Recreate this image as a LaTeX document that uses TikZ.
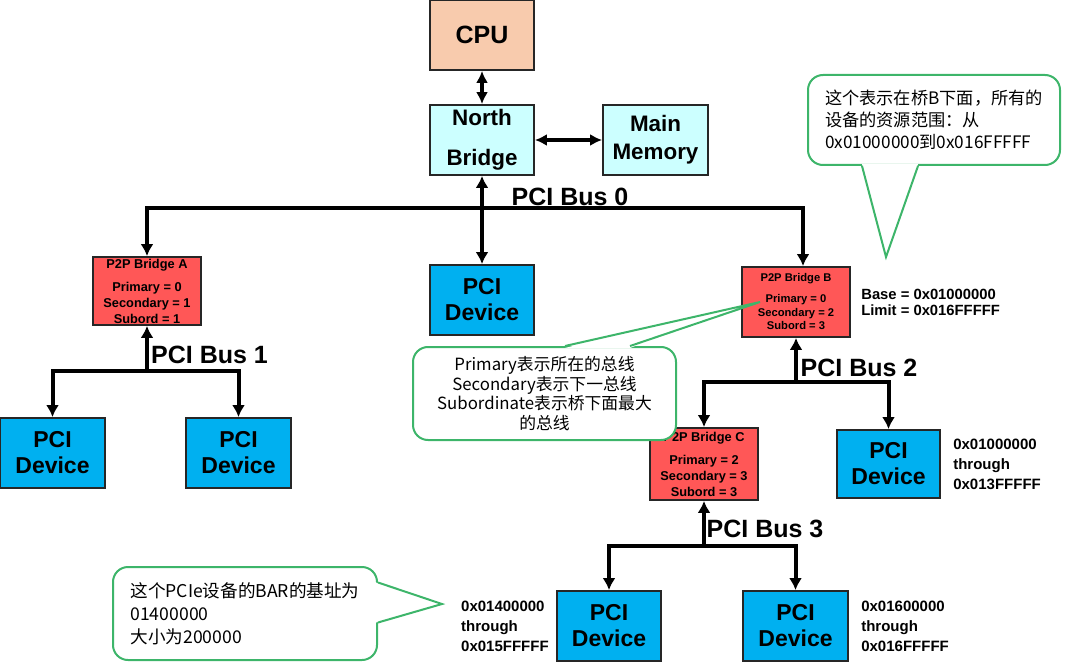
\documentclass[tikz,border=0pt]{standalone}
\usepackage{fontspec}
\setmainfont{Liberation Sans}
\newfontfamily\cjk{Noto Sans CJK SC}
\usepackage{tikz}
\usetikzlibrary{arrows.meta,positioning,calc}
\usepackage{xcolor}
\definecolor{cpuorange}{HTML}{F8CBAD}
\definecolor{nbcyan}{HTML}{CCFFFF}
\definecolor{devblue}{HTML}{00B0F0}
\definecolor{bridgered}{HTML}{FF5757}
\definecolor{notegreen}{HTML}{3DB56A}

\begin{document}
\begin{tikzpicture}[
      x=0.5pt, y=-0.5pt,
      box/.style={draw=black!85, line width=0.9pt, inner sep=0pt, minimum width=52pt, minimum height=35pt, align=center, font=\bfseries\fontsize{11.2}{13}\selectfont},
      cpubox/.style={box, fill=cpuorange, font=\bfseries\fontsize{12.5}{14}\selectfont},
      hostbox/.style={box, fill=nbcyan},
      device/.style={box, fill=devblue, font=\bfseries\fontsize{11.5}{13}\selectfont},
      bridge/.style={box, fill=bridgered, minimum width=54pt, minimum height=35pt, font=\bfseries\fontsize{6.4}{8}\selectfont},
      busname/.style={font=\bfseries\fontsize{12.5}{14}\selectfont, inner sep=0pt},
      addr/.style={font=\bfseries\fontsize{7.5}{10}\selectfont, align=left, inner sep=0pt},
      note/.style={draw=notegreen, line width=1pt, fill=white, rounded corners=7.5pt, inner sep=0pt, font=\cjk\fontsize{8.6}{11}\selectfont},
      pointer/.style={draw=notegreen, line width=1pt},
      bus/.style={line width=2pt, >={Latex[length=6pt,width=6.5pt]}},
      link/.style={line width=1.8pt, {Latex[length=6pt,width=6pt]}-{Latex[length=6pt,width=6pt]}}
    ]
    \useasboundingbox (0,0) rectangle (1080,668);

    % Host side: CPU, north bridge and memory
    \node[cpubox] (cpu) at (482,35) {CPU};
    \node[hostbox] (nb) at (482,140) {North\\[7pt]Bridge};
    \node[hostbox, minimum width=52.5pt] (mm) at (655.5,140) {Main\\[1pt]Memory};
    \draw[link] (cpu) -- (nb);
    \draw[link] (nb) -- (mm);

    % Devices and bridges
    \node[device] (dev0) at (482,300) {PCI\\Device};
    \node[device, minimum width=52.5pt] (dev1a) at (52.5,453) {PCI\\Device};
    \node[device, minimum width=52.5pt] (dev1b) at (238.5,453) {PCI\\Device};
    \node[device, minimum width=51.5pt, minimum height=34pt] (dev2) at (888.5,464) {PCI\\Device};
    \node[device] (dev3a) at (609,626) {PCI\\Device};
    \node[device, minimum width=52.5pt] (dev3b) at (795.5,626) {PCI\\Device};

    \node[bridge, minimum height=34pt] (brA) at (147,291)
      {P2P Bridge A\\[3.5pt]Primary = 0\\Secondary = 1\\Subord = 1};
    \node[bridge, font=\bfseries\fontsize{5.6}{6.75}\selectfont] (brB) at (796,302)
      {P2P Bridge B\\[3.75pt]Primary = 0\\Secondary = 2\\Subord = 3};
    \node[bridge, minimum height=36pt] (brC) at (704,464)
      {P2P Bridge C\\[3.5pt]Primary = 2\\Secondary = 3\\Subord = 3};

    % PCI buses
    \coordinate (bus0) at (483,208);
    \coordinate (bus0R) at (803,208);
    \coordinate (bus1) at (147,371);
    \coordinate (bus2) at (796,382);
    \coordinate (bus3) at (704,546);

    \draw[bus,<->] (brA.north) -- (brA.north |- bus0) -- (bus0R) -- (bus0R |- brB.north);
    \draw[bus,<->] (nb.south) -- (dev0.north);
    \draw[bus,<->] (dev1a.north) -- (dev1a.north |- bus1) -- (dev1b.north |- bus1) -- (dev1b.north);
    \draw[bus,->] (bus1) -- (brA.south);
    \draw[bus,<->] (brC.north) -- (brC.north |- bus2) -- (dev2.north |- bus2) -- (dev2.north);
    \draw[bus,->] (bus2) -- (brB.south);
    \draw[bus,<->] (dev3a.north) -- (dev3a.north |- bus3) -- (dev3b.north |- bus3) -- (dev3b.north);
    \draw[bus,->] (bus3) -- (brC.south);

    \node[busname] (lbl0) at (570,197) {PCI Bus 0};
    \node[busname] (lbl1) at (209.5,355) {PCI Bus 1};
    \node[busname] (lbl2) at (859,368) {PCI Bus 2};
    \node[busname] (lbl3) at (765,529) {PCI Bus 3};

    % Address windows
    \node[addr, font=\bfseries\fontsize{7.4}{8}\selectfont, right=5pt of brB] (baseB)
      {Base = 0x01000000\\Limit = 0x016FFFFF};
    \node[addr, right=6pt of dev2] (addr2) {0x01000000\\through\\0x013FFFFF};
    \node[addr, left=3.5pt of dev3a] (addr3a) {0x01400000\\through\\0x015FFFFF};
    \node[addr, right=6pt of dev3b] (addr3b) {0x01600000\\through\\0x016FFFFF};

    % Callouts
    \node[note, minimum width=126pt, minimum height=45pt, align=left] (noteB) at (934,120)
      {这个表示在桥B下面，所有的\\设备的资源范围：从\\0x01000000到0x016FFFFF};
    \coordinate (tipB) at (886,257);
    \coordinate (b1) at ($(noteB.south)+(-72,0)$);
    \coordinate (b2) at ($(noteB.south)+(-16,0)$);
    \fill[white] ($(b1)+(0,-2)$) -- ($(b1)!0.3!(tipB)$) -- ($(b2)!0.3!(tipB)$) -- ($(b2)+(0,-2)$) -- cycle;
    \draw[pointer] (b1) -- (tipB) -- (b2);

    \node[note, minimum width=131.5pt, minimum height=46.5pt, align=center,
      font=\cjk\fontsize{8.4}{9.75}\selectfont] (noteP) at (544.5,393.5)
      {Primary表示所在的总线\\Secondary表示下一总线\\Subordinate表示桥下面最大\\的总线};
    \coordinate (tipP) at (760,302);
    \coordinate (p1) at ($(noteP.north)+(20.5,0)$);
    \coordinate (p2) at ($(noteP.north)+(85.5,0)$);
    \fill[white] ($(p1)+(0,2)$) -- ($(p1)!0.3!(tipP)$) -- ($(p2)!0.3!(tipP)$) -- ($(p2)+(0,2)$) -- cycle;
    \draw[pointer] (p1) -- (tipP) -- (p2);

    \node[note, minimum width=132pt, minimum height=46.5pt, align=left,
      font=\cjk\fontsize{8.8}{11.5}\selectfont] (noteBar) at (245,613.5)
      {这个PCIe设备的BAR的基址为\\01400000\\大小为200000};
    \coordinate (tipBar) at (442,604);
    \coordinate (q1) at ($(noteBar.east)+(0,-31)$);
    \coordinate (q2) at ($(noteBar.east)+(0,9)$);
    \fill[white] ($(q1)+(-2,0)$) -- ($(q1)!0.3!(tipBar)$) -- ($(q2)!0.3!(tipBar)$) -- ($(q2)+(-2,0)$) -- cycle;
    \draw[pointer] (q1) -- (tipBar) -- (q2);
  \end{tikzpicture}
\end{document}
